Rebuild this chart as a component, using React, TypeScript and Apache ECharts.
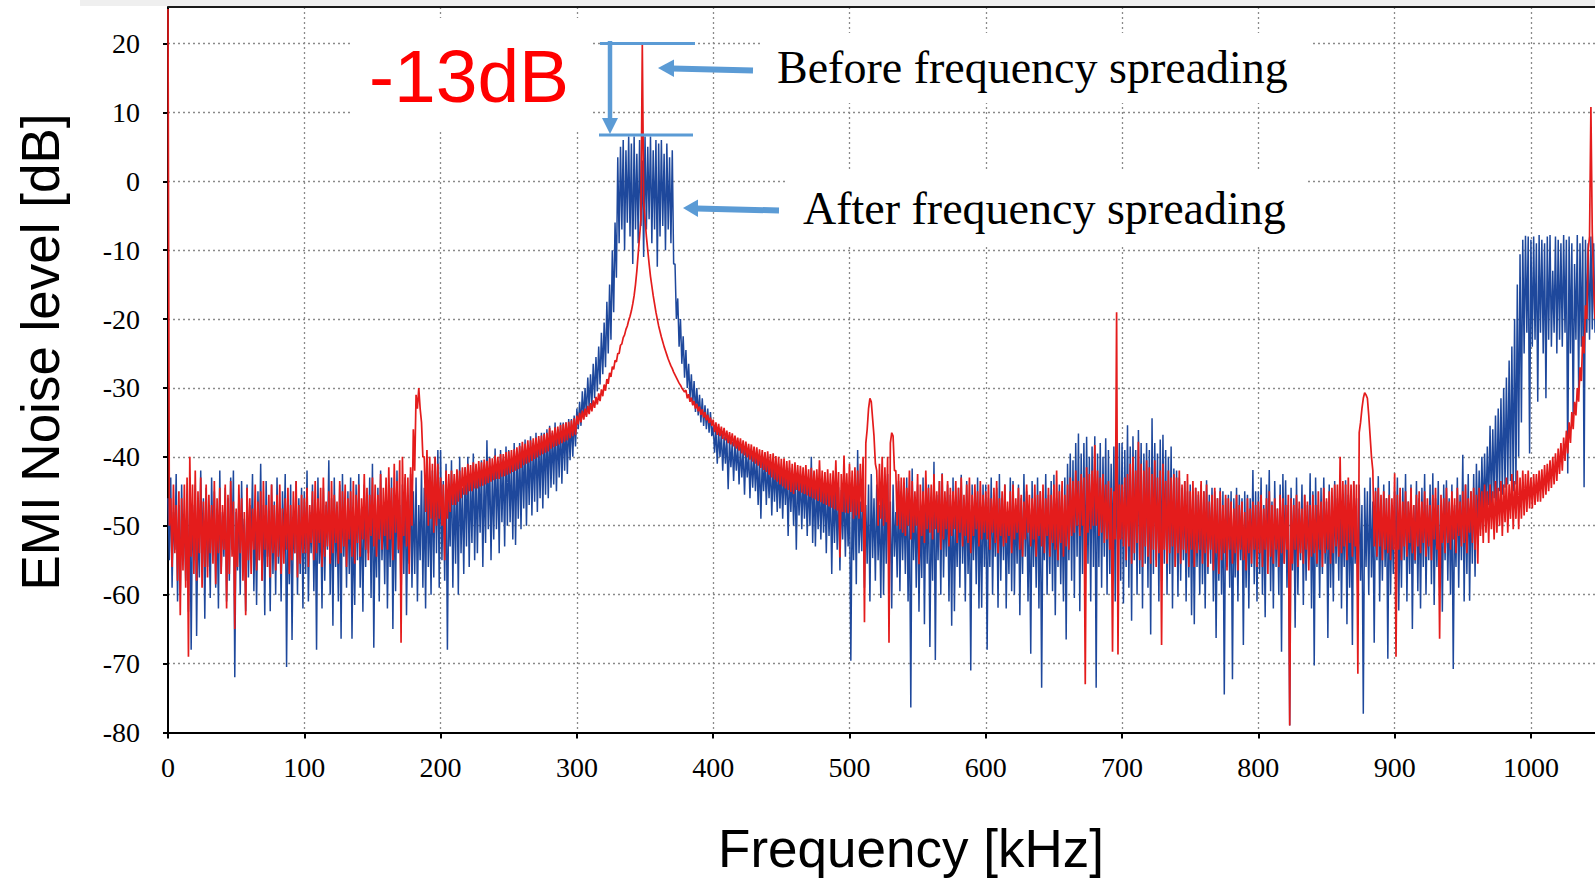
import { useEffect, useRef } from 'react';
import * as echarts from 'echarts';

// Readings every 1 kHz, stored per 100 kHz band as the readings at even kHz
// (x = band + 2i) and at odd kHz (x = band + 2i + 1).
const BAND_KHZ = 100;
const freqTickLabels = [0, 100, 200, 300, 400, 500, 600, 700, 800, 900, 1000];
const levelTickLabels = [-80, -70, -60, -50, -40, -30, -20, -10, 0, 10, 20];

// ---------- Before frequency spreading (red), dB ----------
const redEven000 = [
  25, -46, -44, -47, -45, -46, -44, -43, -40, -44,
  -42, -45, -43, -46.5, -44, -45.5, -47, -43.5, -46, -44.5,
  -47, -44, -45.5, -43.5, -46.5, -47.5, -44, -46, -48, -44.5,
  -46, -47.5, -44, -46.5, -45, -43.5, -47, -45.5, -44, -47,
  -45.5, -44, -47.5, -46, -44.5, -47, -45, -43.5, -47, -45.5,
];
const redOdd000 = [
  -50, -56, -54, -58, -63, -56.5, -59, -69, -54.5, -57,
  -58, -54, -59, -56, -57.5, -54, -55.5, -58.5, -54, -57,
  -53.5, -62, -57, -54.5, -65, -56, -54, -58, -63, -55,
  -57, -53.5, -56.5, -55, -58, -53.5, -56, -57.5, -54, -56.5,
  -54.5, -57, -55.5, -53.5, -57, -55, -54, -57.5, -55.5, -54,
];
const redEven100 = [
  -46, -44.5, -47, -45, -43.5, -46, -44.5, -43, -46.5, -45,
  -43.5, -45.5, -46.5, -43.5, -45, -44, -46, -45, -43.5, -45.5,
  -44, -46, -42.5, -44.5, -45.5, -43, -44, -45.5, -42.5, -44.5,
  -43, -41.5, -44.5, -41, -43.5, -40.5, -40, -42.5, -43, -41.5,
  -36, -31, -30, -35, -40, -39, -40, -41, -40, -41,
];
const redOdd100 = [
  -54, -56, -52.5, -55, -54, -52.5, -56, -54.5, -53, -55.5,
  -54, -52.5, -55.5, -54, -53, -56, -52, -54.5, -55.5, -52.5,
  -54.5, -52, -53.5, -55, -51.5, -53, -54.5, -52, -53.5, -51.5,
  -53.5, -52, -55, -51, -53.5, -67, -51.5, -53, -57, -50,
  -42, -33, -33, -40, -48, -50, -49, -51, -50, -49,
];
const redEven200 = [
  -43, -44, -42, -42.5, -42, -42.5, -41.8, -42, -41.5, -41.5,
  -41, -41.2, -40.8, -41, -40.6, -40.8, -40.4, -40.6, -40.2, -40.2,
  -39.8, -40, -39.6, -39.6, -39.3, -39.2, -39, -38.9, -38.6, -38.4,
  -37.8, -38.1, -37.6, -37.6, -37.3, -37.2, -37, -36.9, -36.7, -36.5,
  -35.8, -36.2, -35.7, -35.6, -35.4, -35.2, -35, -34.9, -34.7, -34.4,
];
const redOdd200 = [
  -50, -55, -49, -48, -47, -47, -46.5, -46, -45.5, -45.5,
  -45, -45, -44.6, -44.6, -44.3, -44.2, -44, -43.8, -43.6, -43.4,
  -43.2, -43.2, -42.9, -42.8, -42.6, -42.4, -42.2, -42, -41.8, -41.6,
  -41.2, -41, -40.8, -40.6, -40.3, -40.1, -39.8, -39.6, -39.4, -39.2,
  -38.8, -38.6, -38.4, -38.2, -38, -37.8, -37.6, -37.3, -37, -36.8,
];
const redEven300 = [
  -34, -33.6, -33.3, -33, -32.6, -32.2, -31.8, -31.3, -30.8, -30.2,
  -29.5, -28.7, -27.8, -26.9, -26, -25, -23.8, -22.7, -21.5, -20.2,
  -18.8, -16.6, -13, -8, 20, -5.5, -10, -13.8, -16.6, -19,
  -21, -22.6, -24, -25.2, -26.3, -27.2, -28.1, -28.9, -29.6, -30.3,
  -30.3, -30.9, -31.4, -31.9, -32.3, -32.7, -33.1, -33.5, -33.9, -34.3,
];
const redOdd300 = [
  -35.3, -35, -34.6, -34.2, -33.8, -33.4, -32.9, -32.4, -31.9, -31.2,
  -30.4, -29.4, -28.4, -27.3, -26.2, -25, -23.6, -22.3, -21, -19.6,
  -17.8, -15, -10.5, -5.5, -3, -8, -12, -15.2, -17.8, -20,
  -21.8, -23.3, -24.6, -25.8, -26.8, -27.7, -28.5, -29.3, -30, -30.6,
  -31.5, -32, -32.5, -33, -33.4, -33.9, -34.3, -34.7, -35.1, -35.5,
];
const redEven400 = [
  -34.6, -35, -35.2, -35.6, -35.8, -36.2, -36.4, -36.6, -36.9, -37.2,
  -37.3, -37.6, -37.8, -38.1, -38.2, -38.5, -38.6, -38.9, -39, -39.3,
  -39.2, -39.6, -39.5, -39.9, -40, -40.3, -40.2, -40.6, -40.5, -41,
  -40.8, -41.2, -41.3, -41.5, -41.2, -41.8, -41.6, -42, -41.8, -40.5,
  -42, -42.2, -41.8, -42.4, -42, -40.5, -42.2, -42.5, -39.8, -42.4,
];
const redOdd400 = [
  -36.4, -36.8, -37, -37.4, -37.6, -38, -38.2, -38.5, -38.8, -39.1,
  -39.5, -39.8, -40.1, -40.4, -40.7, -41, -41.3, -41.6, -41.9, -42.2,
  -42.6, -43, -43.3, -43.6, -44, -44.3, -44.6, -44.8, -45.1, -45.4,
  -44.8, -45, -45.2, -45.4, -45.6, -45.8, -46, -46.2, -46.4, -46.6,
  -46.8, -47, -47.2, -47.4, -47.6, -47.8, -54.6, -48, -48.1, -48.2,
];
const redEven500 = [
  -41, -42, -41.5, -42, -41, -40, -38, -33, -32, -37,
  -42, -41, -40, -41.5, -40, -38, -37, -42, -42.5, -43,
  -43, -44.5, -42, -43.5, -45, -42.5, -44, -45, -42, -44.5,
  -44, -42.5, -45, -43.5, -42.5, -45, -43.5, -44.5, -45, -43.5,
  -44.5, -43, -45.5, -44, -43, -45.5, -44, -45, -43.5, -45.5,
];
const redOdd500 = [
  -48, -49, -48.5, -49, -48, -64, -36, -31.5, -34.5, -41,
  -50, -49, -50, -49.5, -67, -36.5, -42, -50, -50.5, -51,
  -51.5, -50, -52, -51, -50, -55.6, -51.5, -52.5, -50.5, -51,
  -52, -50.5, -51, -53.5, -52, -50.5, -53, -51.5, -50.5, -52.5,
  -51, -53, -51.5, -52.5, -54, -51.5, -50.5, -53, -52, -51,
];
const redEven600 = [
  -45, -44, -46, -44.5, -43.5, -46, -45, -44, -46.5, -45,
  -44, -46, -44.5, -45.5, -46.5, -44, -45.5, -46, -44, -45.5,
  -45, -44, -46, -44.5, -45.5, -44, -42, -45, -43.5, -45.5,
  -44, -43, -43.5, -42, -43.5, -42.5, -43, -41.5, -42.5, -42,
  -38.3, -42, -43, -42.5, -44, -43.5, -44.5, -45, -19, -44,
];
const redOdd600 = [
  -52, -53.5, -51, -52.5, -54, -51.5, -53, -52.5, -51.5, -54,
  -52, -51, -53.5, -54.5, -52, -51, -53, -52, -54.5, -51.5,
  -53, -54, -51.5, -54.5, -52.5, -53.5, -55, -52.5, -54.5, -53,
  -53.5, -51.5, -51, -50, -51.5, -50, -73, -51, -50.5, -50,
  -50, -51.5, -51, -52.5, -52, -53.5, -68.3, -52, -68.7, -52,
];
const redEven700 = [
  -44, -43, -42.5, -41, -40, -42, -37.8, -41, -42, -40.5,
  -41.5, -42.5, -40.5, -43, -42, -41, -43.5, -42, -43, -42.5,
  -43, -42, -44, -43.5, -42.5, -45, -43.5, -44.5, -45, -43.5,
  -45, -44, -46.5, -45.5, -44.5, -46, -45, -47, -45.5, -46,
  -46.5, -47.5, -45.5, -47, -46.5, -48, -46, -47.5, -46.5, -47,
];
const redOdd700 = [
  -53, -55, -53, -55.5, -54, -52.5, -55, -56, -53, -54.5,
  -55.5, -53.5, -56, -54, -67.3, -53.5, -55.5, -54, -53, -56,
  -54, -55.5, -53.5, -54, -56, -53.5, -56, -54, -53.5, -55.5,
  -54, -56, -53.5, -56.5, -54, -57, -55, -54, -56.5, -53.5,
  -55.5, -54, -56.5, -53.5, -55, -56.5, -54, -55.5, -53.5, -56,
];
const redEven800 = [
  -46.5, -45.5, -47.5, -46, -45, -47, -46, -47.5, -45.5, -46,
  -47, -45.5, -46, -47, -45.5, -46.5, -47.5, -45.5, -46.5, -47,
  -45.5, -47, -45, -46.5, -44.5, -46, -45, -44.5, -44, -44,
  -40, -43.5, -44, -43, -44, -43.5, -44, -36.5, -33, -30.7,
  -31.5, -37, -42, -45, -44.5, -45.5, -45, -46, -45.5, -46,
];
const redOdd800 = [
  -54, -56, -53.5, -57, -54.5, -55.5, -53.5, -56, -54, -55.5,
  -53.5, -79, -55.5, -53.5, -56, -54, -55.5, -53.5, -56.5, -54.5,
  -54, -55.5, -53.5, -56, -54, -53.5, -55.5, -54, -53, -54.5,
  -54, -53, -55, -52.5, -54.5, -53, -71.5, -35, -31.5, -31,
  -34, -40, -53, -54.5, -53, -55, -53.5, -54, -55, -53.5,
];
const redEven900 = [
  -42.4, -45.5, -44.5, -46.5, -45, -46.5, -44.5, -47, -45.5, -45,
  -46.5, -45, -46, -47, -45.5, -44.5, -47, -45.5, -46, -44.5,
  -46.5, -45, -46, -44.5, -46.5, -45, -44, -46, -45, -44.5,
  -45.5, -44.5, -45, -44, -45, -44, -45, -43.5, -44.5, -43.5,
  -44, -43, -44, -42.5, -43.5, -42, -43, -42, -42.5, -42,
];
const redOdd900 = [
  -69, -53.5, -55, -53, -54.5, -52.5, -54, -55, -53, -54,
  -52.5, -54.5, -53, -55, -52, -53.5, -66.4, -52.5, -54, -52.5,
  -53.5, -52, -54, -51.5, -53, -52.5, -54, -51, -52.5, -53.5,
  -55.5, -51.5, -52.5, -51, -52.5, -50.5, -52, -51, -50, -51.5,
  -49.5, -51, -49, -50.5, -49, -50.5, -49, -48.5, -48, -47.5,
];
const redEven1000 = [
  -43, -42.5, -42.5, -42, -41.8, -41.2, -41, -40.5, -40, -39.5,
  -38.8, -38, -37.2, -36.2, -35, -33.5, -32, -30, -27, -22.5,
  -18, -10, 10.8, -15,
];
const redOdd1000 = [
  -47.5, -47, -46.5, -46.5, -46, -45.5, -45, -44.5, -44, -43.5,
  -42.5, -42, -40.6, -39.5, -38, -36, -34, -32, -29, -25,
  -20, -8, -7.5, -20,
];

// ---------- After frequency spreading (blue), dB ----------
const blueEven000 = [
  -46, -43, -48, -42.5, -47, -44, -49, -45.5, -43, -47,
  -44, -48, -42, -46, -44.5, -49, -43, -45, -47.5, -42,
  -48, -44.5, -46, -43, -42, -48, -45.5, -43.5, -49, -44,
  -47, -42.5, -48, -45, -41, -47, -43.5, -49, -44, -46.5,
  -43, -48, -45, -42.5, -47.5, -44, -49, -43.5, -46, -44.5,
];
const blueOdd000 = [
  -55, -59, -53.5, -61, -60, -54.5, -58, -62.5, -68, -55,
  -66, -57.5, -53, -63.5, -56, -60.5, -54, -59, -62, -57,
  -54.5, -61, -58, -53.5, -72, -56.5, -60, -54, -62.4, -57.5,
  -53, -59.5, -61.5, -55, -58, -63, -54.5, -62.4, -57, -60,
  -55.5, -61, -53.5, -70.5, -58.5, -66.6, -54, -60, -57, -62,
];
const blueEven100 = [
  -45, -42, -48, -44, -46.5, -43, -49, -44.5, -47, -40.5,
  -46, -43, -48.5, -44, -42.5, -47, -45, -43, -49, -44,
  -42.5, -47.5, -44, -46, -43, -41, -48, -44.5, -42, -47,
  -44, -48, -43, -45.5, -42, -47, -44, -43, -48, -42.5,
  -45, -43, -47, -42, -44.5, -41.5, -46, -42, -40, -39,
];
const blueOdd100 = [
  -57, -61, -54, -59.5, -68, -55.5, -62, -58, -53.5, -60,
  -64.5, -56, -61, -66.4, -54.5, -59, -57, -66.4, -61.5, -55,
  -59, -62.5, -56, -54, -60.5, -67.7, -57.5, -61, -55, -58.5,
  -62, -56, -65, -59.5, -54, -61.5, -57, -63, -55.5, -59,
  -57, -61, -55, -59, -62, -56, -60, -57.5, -54, -59,
];
const blueEven200 = [
  -39, -43.5, -41, -45, -40.5, -44, -42, -40, -44.5, -41.5,
  -40, -43, -39.5, -42, -41.5, -40.5, -42, -37.6, -40, -42,
  -38.8, -41, -39, -40.5, -38.5, -39, -40.5, -38, -39.5, -38,
  -38.5, -37.5, -38.5, -37, -38, -36.5, -37.5, -36.5, -36.5, -36,
  -35.5, -36.5, -35, -36, -35, -35, -35, -34.5, -34.5, -34,
];
const blueOdd200 = [
  -55, -58, -68, -53, -59, -55.5, -60, -54, -57, -53,
  -56, -52.5, -55, -54, -51, -56, -52.5, -50.5, -55, -52,
  -50.5, -54, -49.5, -53, -50, -49.5, -52, -52.8, -49, -50.5,
  -47.5, -50, -47, -48.5, -46.5, -48, -46, -47.5, -45.5, -46,
  -44.5, -44, -45, -43, -43.9, -42, -42.5, -40.5, -40, -38.5,
];
const blueEven300 = [
  -33, -32, -30.5, -30, -28.5, -28, -26.5, -25.5, -24, -22,
  -20.5, -17.5, -15, -10, -6, 3.5, 5, 6, 4.5, 6.5,
  5.5, 6.5, 4, 6, 3, 6.5, 5, 6.5, 4.5, 6,
  5.5, 6, 4, 5.5, 3.5, 4.5, -12, -17, -20, -22.5,
  -24.5, -26.5, -28, -29, -30, -31, -31.5, -32.5, -33, -33.5,
];
const blueOdd300 = [
  -36, -35.5, -34.5, -34, -33, -32.5, -31.5, -30.5, -29.5, -28,
  -27, -25, -23, -19, -14, -9, -7, -10, -6, -8,
  -12, -7, -9, -6.5, -11, -7, -5.5, -9, -7, -12.4,
  -8, -6.5, -10, -7, -9, -12, -20, -24, -26.5, -28.5,
  -30, -31.5, -32.5, -33.5, -34, -35, -35.5, -36, -36.5, -37,
];
const blueEven400 = [
  -35.5, -36, -36.2, -36.5, -37, -37.2, -37.5, -37.8, -38, -38.3,
  -38.5, -38.8, -39, -39.2, -39.4, -39.6, -39.8, -40, -40.2, -40.4,
  -40.5, -40.8, -41, -41.2, -41, -41.5, -41.4, -41.8, -41.6, -42,
  -42, -42.3, -42.5, -42.7, -42.8, -43, -40, -43.2, -43.4, -43.6,
  -43.5, -43.8, -44, -44.2, -44, -44.5, -44.4, -44.8, -44.6, -45,
];
const blueOdd400 = [
  -39.4, -41, -40, -42, -41, -44.7, -41.5, -43.5, -42, -44,
  -43, -45.5, -43, -46, -44.5, -45, -47, -49, -45, -47,
  -46, -48.5, -46.5, -48, -47.5, -49, -47, -51.5, -48, -50,
  -53.5, -48.5, -50.5, -49, -51.5, -50, -52.5, -53, -50.5, -52,
  -51, -54, -51.5, -57, -52.5, -53.5, -56.5, -52, -54.5, -53,
];
const blueEven500 = [
  -44, -46, -43, -39, -46.5, -43.5, -47, -44, -42.5, -46,
  -44, -47, -43, -45.5, -42.5, -46.5, -44, -48, -43.5, -45,
  -46, -43, -47, -41.7, -46, -44, -48, -43, -45.5, -44,
  -47, -40.7, -45.5, -43.5, -42.4, -47, -44, -45.5, -43, -47.5,
  -44.5, -42.6, -46.5, -43.5, -47, -44, -45.5, -43, -47, -44,
];
const blueOdd500 = [
  -69.6, -55, -58.5, -54, -53.7, -59, -55.5, -61, -54.7, -58,
  -55, -60.5, -60, -55.5, -58, -62, -54.5, -57.5, -59.5, -55,
  -57, -61, -76.4, -55, -59, -62.5, -57.6, -64.3, -55.5, -67.6,
  -58, -69.5, -55, -60, -57.5, -54.5, -61, -64.5, -62.4, -56,
  -59, -55.5, -61, -57, -71, -55, -58.5, -62, -61.9, -56,
];
const blueEven600 = [
  -44, -46, -43, -47, -44.5, -42.5, -46, -44, -48, -43,
  -43.5, -47, -44, -46, -42.5, -45, -47.5, -43.5, -46, -43,
  -45, -47, -42.5, -45.5, -43.5, -42.6, -46, -44, -47, -43,
  -41, -39.5, -40.5, -38, -36.6, -39.5, -38, -37.1, -40, -38.5,
  -37, -39.5, -38, -40, -37.3, -39, -41, -38.5, -40, -38,
];
const blueOdd600 = [
  -68, -56, -60, -54.5, -61.9, -58, -55, -62, -57, -59.5,
  -60, -55.5, -63, -57, -54.5, -61, -68.6, -56, -59, -62,
  -73.5, -55, -60, -57, -59.5, -63, -56, -58.5, -61, -66.5,
  -55, -58, -60.5, -54.5, -62.4, -57, -59, -55.5, -61, -56,
  -73.5, -56, -59, -54.5, -60, -57, -55.5, -61, -56, -58,
];
const blueEven700 = [
  -38, -39, -35.4, -38.5, -37, -39, -36.1, -38, -39.5, -38,
  -39, -34.4, -38, -39.5, -37.5, -36.8, -39, -40, -38.5, -41.7,
  -42, -43, -44.5, -43.5, -45, -44, -45, -44.5, -45.5, -44,
  -45, -43.4, -45.5, -44.5, -45, -46, -44.5, -45, -46, -45.5,
  -45, -46, -44.5, -45.5, -46, -45, -45.5, -46, -41.9, -45,
];
const blueOdd700 = [
  -61.3, -56, -59, -63.8, -55, -60, -57, -62, -55.5, -59,
  -65.8, -57, -55, -61, -58, -55.5, -60, -57, -62, -56,
  -60.3, -58, -55, -61, -57.5, -63, -64.3, -56, -60, -58.5,
  -62, -57, -55.5, -61, -66.3, -58, -60, -74.5, -56, -59,
  -72.3, -57.5, -61, -55, -67.3, -59, -62, -56, -58.5, -61,
];
const blueEven800 = [
  -45, -43, -47, -44, -41.9, -46.5, -43.5, -47.5, -44, -42.5,
  -43.4, -47, -44.5, -46, -43, -47.5, -44, -45.5, -47, -42.4,
  -45, -43, -47, -44.5, -43, -46.5, -44, -47.5, -43.5, -46,
  -44, -47, -43.4, -45.5, -47, -43.5, -46, -44, -47, -44.5,
  -45, -43, -46.5, -44.5, -42.8, -47, -44, -46, -43.5, -47,
];
const blueOdd800 = [
  -57, -60, -63.3, -55, -59.5, -62, -56, -60, -68.3, -55.5,
  -59, -79, -56.5, -64.8, -60, -55, -61.5, -58, -55, -62,
  -70.3, -56, -60.5, -57, -55.5, -66.3, -59, -61, -55.5, -58,
  -62, -56, -64.3, -59, -67.3, -55.5, -61, -58, -77.3, -56,
  -60, -57.5, -67, -55, -61, -58, -56, -69.3, -60, -57,
];
const blueEven900 = [
  -45, -43, -47, -44.5, -42.5, -46.5, -44, -47, -43.5, -46,
  -44.5, -42.5, -47, -44, -42.4, -46, -43.5, -47, -44, -43.4,
  -46, -44, -47, -43, -45.5, -39.7, -44, -42.5, -45, -42.5,
  -41, -42, -40, -39.5, -38.5, -35.5, -36, -34, -33, -31.5,
  -30, -28.5, -26, -24, -20, -15, -10.6, -8.5, -7.9, -8,
];
const blueOdd900 = [
  -56, -62.3, -59, -55, -61, -57, -65, -55.5, -59.5, -62,
  -56, -60, -55, -58.5, -61.5, -56, -59, -62.5, -55, -58,
  -60, -70.8, -56, -59, -55, -61, -57, -60.9, -55.5, -57.4,
  -52, -50.5, -49, -48.5, -47, -47.5, -46, -46.5, -45, -45.5,
  -44.5, -44, -43.5, -45, -44, -40, -35, -25, -22, -39.5,
];
const blueEven1000 = [
  -8.5, -8, -9, -7.8, -8.5, -9, -8, -7.8, -13, -8,
  -8.5, -9, -7.8, -8.5, -8, -9, -12, -7.8, -9, -8,
  -8.5, -9, -8, -9,
];
const blueOdd1000 = [
  -24, -23, -32, -22, -25, -31.5, -23, -24, -22, -25,
  -23, -24, -22, -42.4, -25, -35, -23, -30, -24, -44.4,
  -22, -23, -21.5, -22,
];

const redEven = [redEven000, redEven100, redEven200, redEven300, redEven400, redEven500, redEven600, redEven700, redEven800, redEven900, redEven1000];
const redOdd = [redOdd000, redOdd100, redOdd200, redOdd300, redOdd400, redOdd500, redOdd600, redOdd700, redOdd800, redOdd900, redOdd1000];
const blueEven = [blueEven000, blueEven100, blueEven200, blueEven300, blueEven400, blueEven500, blueEven600, blueEven700, blueEven800, blueEven900, blueEven1000];
const blueOdd = [blueOdd000, blueOdd100, blueOdd200, blueOdd300, blueOdd400, blueOdd500, blueOdd600, blueOdd700, blueOdd800, blueOdd900, blueOdd1000];

function toPoints(even: number[][], odd: number[][]): [number, number][] {
  const pts: [number, number][] = [];
  even.forEach((band, b) => {
    band.forEach((v, i) => {
      const f = b * BAND_KHZ + 2 * i;
      pts.push([f, v]);
      if (odd[b][i] !== undefined) pts.push([f + 1, odd[b][i]]);
    });
  });
  return pts;
}

const RED = '#e41c1c';
const BLUE = '#1e489c';
const NOTE = '#5b9bd5';
const SERIF = '"Liberation Serif", "Times New Roman", serif';
const SANS = '"Liberation Sans", Arial, sans-serif';

export default function App() {
  const ref = useRef<HTMLDivElement | null>(null);

  useEffect(() => {
    if (!ref.current) return;
    const chart = echarts.init(ref.current, undefined, { renderer: 'svg' });
    const gridLine = { color: '#8a8a8a', width: 1.3, type: [2, 3] as number[] };
    const option: any = {
      animation: false,
      backgroundColor: '#ffffff',
      grid: { left: 168, right: 0, top: 7, bottom: 145.6, containLabel: false },
      xAxis: {
        type: 'value',
        min: 0,
        max: 1047,
        interval: 100,
        axisLine: { show: true, onZero: false, lineStyle: { color: '#000', width: 2 } },
        axisTick: { show: true, inside: false, length: 6, lineStyle: { color: '#000', width: 2 } },
        axisLabel: {
          show: true,
          margin: 21,
          fontFamily: SERIF,
          fontSize: 28,
          color: '#000',
          showMaxLabel: false,
          formatter: (v: number) => (freqTickLabels.includes(v) ? String(v) : ''),
        },
        splitLine: { show: true, showMinLine: false, showMaxLine: false, lineStyle: gridLine },
      },
      yAxis: {
        type: 'value',
        min: -80,
        max: 25.3,
        interval: 10,
        axisLine: { show: true, onZero: false, lineStyle: { color: '#000', width: 2 } },
        axisTick: { show: true, inside: false, length: 5, lineStyle: { color: '#000', width: 2 } },
        axisLabel: {
          show: true,
          margin: 28,
          fontFamily: SERIF,
          fontSize: 28,
          color: '#000',
          showMaxLabel: false,
          formatter: (v: number) => (levelTickLabels.includes(v) ? String(v) : ''),
        },
        splitLine: { show: true, showMinLine: false, showMaxLine: false, lineStyle: gridLine },
      },
      series: [
        {
          name: 'After frequency spreading',
          type: 'line',
          data: toPoints(blueEven, blueOdd),
          showSymbol: false,
          symbol: 'none',
          silent: true,
          z: 2,
          lineStyle: { color: BLUE, width: 1.5, join: 'bevel' },
          itemStyle: { color: BLUE },
          emphasis: { disabled: true },
        },
        {
          name: 'Before frequency spreading',
          type: 'line',
          data: toPoints(redEven, redOdd),
          showSymbol: false,
          symbol: 'none',
          silent: true,
          z: 3,
          lineStyle: { color: RED, width: 1.7, join: 'bevel' },
          itemStyle: { color: RED },
          emphasis: { disabled: true },
        },
      ],
      graphic: [
        { type: 'rect', silent: true, z: 1, shape: { x: 80, y: 0, width: 1515, height: 6 }, style: { fill: '#efefef' } },
        { type: 'rect', silent: true, z: 1, shape: { x: 352, y: 18, width: 241, height: 112 }, style: { fill: '#ffffff' } },
        { type: 'rect', silent: true, z: 1, shape: { x: 763, y: 33, width: 549, height: 70 }, style: { fill: '#ffffff' } },
        { type: 'rect', silent: true, z: 1, shape: { x: 786, y: 170, width: 519, height: 75 }, style: { fill: '#ffffff' } },
        { type: 'line', silent: true, z: 5, shape: { x1: 168, y1: 7, x2: 1595, y2: 7 }, style: { stroke: '#1a1a1a', lineWidth: 2 } },
        // level markers and arrows
        { type: 'line', silent: true, z: 10, shape: { x1: 600, y1: 43.5, x2: 695, y2: 43.5 }, style: { stroke: NOTE, lineWidth: 3 } },
        { type: 'line', silent: true, z: 10, shape: { x1: 599, y1: 135, x2: 693, y2: 135 }, style: { stroke: NOTE, lineWidth: 3 } },
        { type: 'line', silent: true, z: 10, shape: { x1: 610, y1: 41, x2: 610, y2: 119 }, style: { stroke: NOTE, lineWidth: 4.5 } },
        { type: 'polygon', silent: true, z: 10, shape: { points: [[602, 118], [618, 118], [610, 134]] }, style: { fill: NOTE } },
        { type: 'line', silent: true, z: 10, shape: { x1: 672, y1: 68.5, x2: 753, y2: 70.5 }, style: { stroke: NOTE, lineWidth: 6 } },
        { type: 'polygon', silent: true, z: 10, shape: { points: [[658, 68], [674, 59.5], [674, 77]] }, style: { fill: NOTE } },
        { type: 'line', silent: true, z: 10, shape: { x1: 697, y1: 208.5, x2: 779, y2: 210.5 }, style: { stroke: NOTE, lineWidth: 6 } },
        { type: 'polygon', silent: true, z: 10, shape: { points: [[683, 208], [698, 199.5], [698, 217]] }, style: { fill: NOTE } },
        // texts
        {
          type: 'text', silent: true, z: 10, x: 369, y: 76,
          style: { text: '-13dB', fill: '#ff0000', fontSize: 75, fontFamily: SANS, align: 'left', verticalAlign: 'middle' },
        },
        {
          type: 'text', silent: true, z: 10, x: 777, y: 67.5,
          style: { text: 'Before frequency spreading', fill: '#000', fontSize: 46, fontFamily: SERIF, align: 'left', verticalAlign: 'middle' },
        },
        {
          type: 'text', silent: true, z: 10, x: 803, y: 208.5,
          style: { text: 'After frequency spreading', fill: '#000', fontSize: 46, fontFamily: SERIF, align: 'left', verticalAlign: 'middle' },
        },
        {
          type: 'text', silent: true, z: 10, x: 40, y: 352, rotation: Math.PI / 2,
          style: { text: 'EMI Noise level [dB]', fill: '#000', fontSize: 53, fontFamily: SANS, align: 'center', verticalAlign: 'middle' },
        },
        {
          type: 'text', silent: true, z: 10, x: 911, y: 848,
          style: { text: 'Frequency [kHz]', fill: '#000', fontSize: 53, fontFamily: SANS, align: 'center', verticalAlign: 'middle' },
        },
      ],
    };
    chart.setOption(option);
    return () => {
      chart.dispose();
    };
  }, []);

  return (
    <div
      ref={ref}
      style={{ position: 'fixed', left: 0, top: 0, width: 1595, height: 878, background: '#ffffff' }}
    />
  );
}
